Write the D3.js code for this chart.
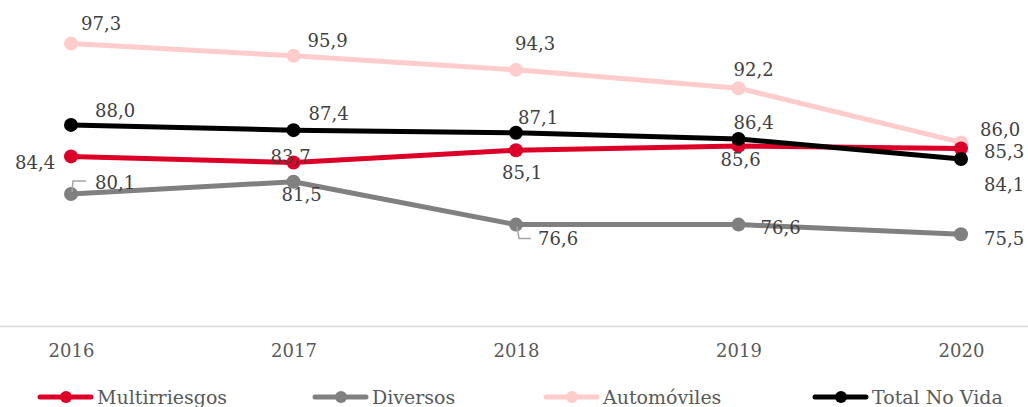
<!DOCTYPE html>
<html><head><meta charset="utf-8">
<script src="https://cdn.jsdelivr.net/npm/d3@7"></script>
<style>
html,body{margin:0;padding:0;background:#fff;}
svg{display:block;font-family:"DejaVu Serif",serif;}
</style></head>
<body><svg id="c" width="1028" height="407"></svg>
<script>
const years = ["2016","2017","2018","2019","2020"];
const multirriesgos = [84.4, 83.7, 85.1, 85.6, 85.3];
const diversos = [80.1, 81.5, 76.6, 76.6, 75.5];
const automoviles = [97.3, 95.9, 94.3, 92.2, 86.0];
const totalNoVida = [88.0, 87.4, 87.1, 86.4, 84.1];
const seriesNames = ["Multirriesgos","Diversos","Automóviles","Total No Vida"];

// label placement offsets (dx, dy) relative to each point
const labelOffsets = {
  "Automóviles": [[10,-14],[14,-9],[-1,-20],[-5,-12],[19,-6]],
  "Total No Vida": [[24,-8],[15,-10],[2,-9],[-5,-10],[23,32]],
  "Multirriesgos": [[-56,13],[-23,0],[-14,29],[-18,20],[23,9]],
  "Diversos": [[24,-5],[-12,19],[22,20],[22,9],[23,11]]
};
const colors = {"Multirriesgos":"#dc0028","Diversos":"#808080","Automóviles":"#ffcccc","Total No Vida":"#000000"};
const values = {"Multirriesgos":multirriesgos,"Diversos":diversos,"Automóviles":automoviles,"Total No Vida":totalNoVida};
const drawOrder = ["Automóviles","Diversos","Multirriesgos","Total No Vida"];

const svg = d3.select("#c");
const x = d3.scalePoint().domain(years).range([71, 961]);
const y = d3.scaleLinear().domain([65, 100]).range([326, 20]);

// axis line
svg.append("line").attr("x1",0).attr("x2",1028).attr("y1",326.5).attr("y2",326.5)
  .attr("stroke","#d9d9d9").attr("stroke-width",1.5);

const xAxis = svg.append("g").attr("transform","translate(0,326)")
  .call(d3.axisBottom(x).tickSize(0).tickPadding(18));
xAxis.select(".domain").remove();
xAxis.selectAll("text").attr("font-family","DejaVu Serif").attr("font-size",18).attr("fill","#595959");

const line = d3.line().x((d,i)=>x(years[i])).y(d=>y(d));

drawOrder.forEach(name=>{
  const g = svg.append("g");
  g.append("path").datum(values[name]).attr("d",line).attr("fill","none")
    .attr("stroke",colors[name]).attr("stroke-width",5).attr("stroke-linejoin","round");
  g.selectAll("circle").data(values[name]).join("circle")
    .attr("cx",(d,i)=>x(years[i])).attr("cy",d=>y(d)).attr("r",7).attr("fill",colors[name]);
});

// leader lines for Diversos labels
svg.append("path").attr("d",`M${x("2016")+1},${y(80.1)-2}L${x("2016")+2},${y(80.1)-13}L${x("2016")+15},${y(80.1)-13}`)
  .attr("fill","none").attr("stroke","#a6a6a6").attr("stroke-width",1.5);
svg.append("path").attr("d",`M${x("2018")+1},${y(76.6)+2}L${x("2018")+3},${y(76.6)+14}L${x("2018")+15},${y(76.6)+14}`)
  .attr("fill","none").attr("stroke","#a6a6a6").attr("stroke-width",1.5);

const fmt = v => d3.format(".1f")(v).replace(".",",");
drawOrder.forEach(name=>{
  svg.append("g").selectAll("text").data(values[name]).join("text")
    .attr("x",(d,i)=>x(years[i])+labelOffsets[name][i][0])
    .attr("y",(d,i)=>y(d)+labelOffsets[name][i][1])
    .attr("font-size",18).attr("fill","#404040").text(d=>fmt(d));
});

// legend
const legendX = [38, 313, 544, 813];
const leg = svg.append("g");
seriesNames.forEach((name,i)=>{
  const g = leg.append("g").attr("transform",`translate(${legendX[i]},397)`);
  g.append("line").attr("x1",2).attr("x2",53).attr("y1",0).attr("y2",0)
    .attr("stroke",colors[name]).attr("stroke-width",5).attr("stroke-linecap","round");
  g.append("circle").attr("cx",28).attr("cy",0).attr("r",6).attr("fill",colors[name]);
  g.append("text").attr("x",59).attr("y",7).attr("font-size",19).attr("fill","#595959").text(name);
});
</script></body></html>
